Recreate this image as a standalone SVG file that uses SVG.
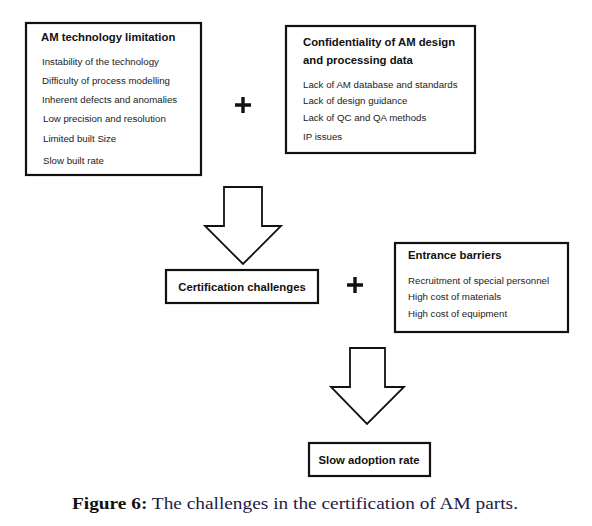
<svg xmlns="http://www.w3.org/2000/svg" width="592" height="526" viewBox="0 0 592 526">
<style>
.box{fill:#fff;stroke:#111;stroke-width:2.2}
.arrow{fill:#fff;stroke:#111;stroke-width:1.8;stroke-linejoin:miter}
.t{font-family:"Liberation Sans",Arial,sans-serif;font-weight:bold;font-size:11.3px;fill:#111}
.i{font-family:"Liberation Sans",Arial,sans-serif;font-size:9.7px;fill:#222}
.plus{stroke:#111;stroke-width:3.4}
.cap{font-family:"Liberation Serif","Times New Roman",serif;font-size:16.5px;fill:#1c1c48}
</style>
<rect width="592" height="526" fill="#fff"/>
<g id="limitation">
<rect class="box" x="26" y="23" width="175" height="152"/>
<text class="t" x="41" y="41">AM technology limitation</text>
<text class="i" x="42" y="65">Instability of the technology</text>
<text class="i" x="42" y="84">Difficulty of process modelling</text>
<text class="i" x="42" y="103">Inherent defects and anomalies</text>
<text class="i" x="43" y="122">Low precision and resolution</text>
<text class="i" x="43" y="142">Limited built Size</text>
<text class="i" x="43" y="164">Slow built rate</text>
</g>
<g id="plus1"><path class="plus" d="M235 105H251M243 97V113"/></g>
<g id="confidentiality">
<rect class="box" x="286" y="26" width="189" height="127"/>
<text class="t" x="303" y="46">Confidentiality of AM design</text>
<text class="t" x="303" y="64">and processing data</text>
<text class="i" x="303" y="88">Lack of AM database and standards</text>
<text class="i" x="303" y="104">Lack of design guidance</text>
<text class="i" x="303" y="121">Lack of QC and QA methods</text>
<text class="i" x="303" y="140">IP issues</text>
</g>
<g id="connectors">
<path class="arrow" d="M224 187H262V226H281L243 264L205 226H224Z"/>
<path class="arrow" d="M350 348H385V387H404L367 424L331 387H350Z"/>
</g>
<g id="certification">
<rect class="box" x="166" y="270" width="152" height="33" stroke-width="1.8"/>
<text class="t" x="242" y="291" text-anchor="middle">Certification challenges</text>
</g>
<g id="plus2"><path class="plus" d="M347 285H363M355 277V293"/></g>
<g id="entrance">
<rect class="box" x="395" y="243" width="173" height="89"/>
<text class="t" x="408" y="259">Entrance barriers</text>
<text class="i" x="408" y="284">Recruitment of special personnel</text>
<text class="i" x="408" y="300">High cost of materials</text>
<text class="i" x="408" y="317">High cost of equipment</text>
</g>
<g id="slow">
<rect class="box" x="309" y="443" width="121" height="33"/>
<text class="t" x="369" y="464" text-anchor="middle">Slow adoption rate</text>
</g>
<text class="cap" x="72" y="509" textLength="446" lengthAdjust="spacingAndGlyphs"><tspan font-weight="bold" fill="#111">Figure 6:</tspan> The challenges in the certification of AM parts.</text>
</svg>
